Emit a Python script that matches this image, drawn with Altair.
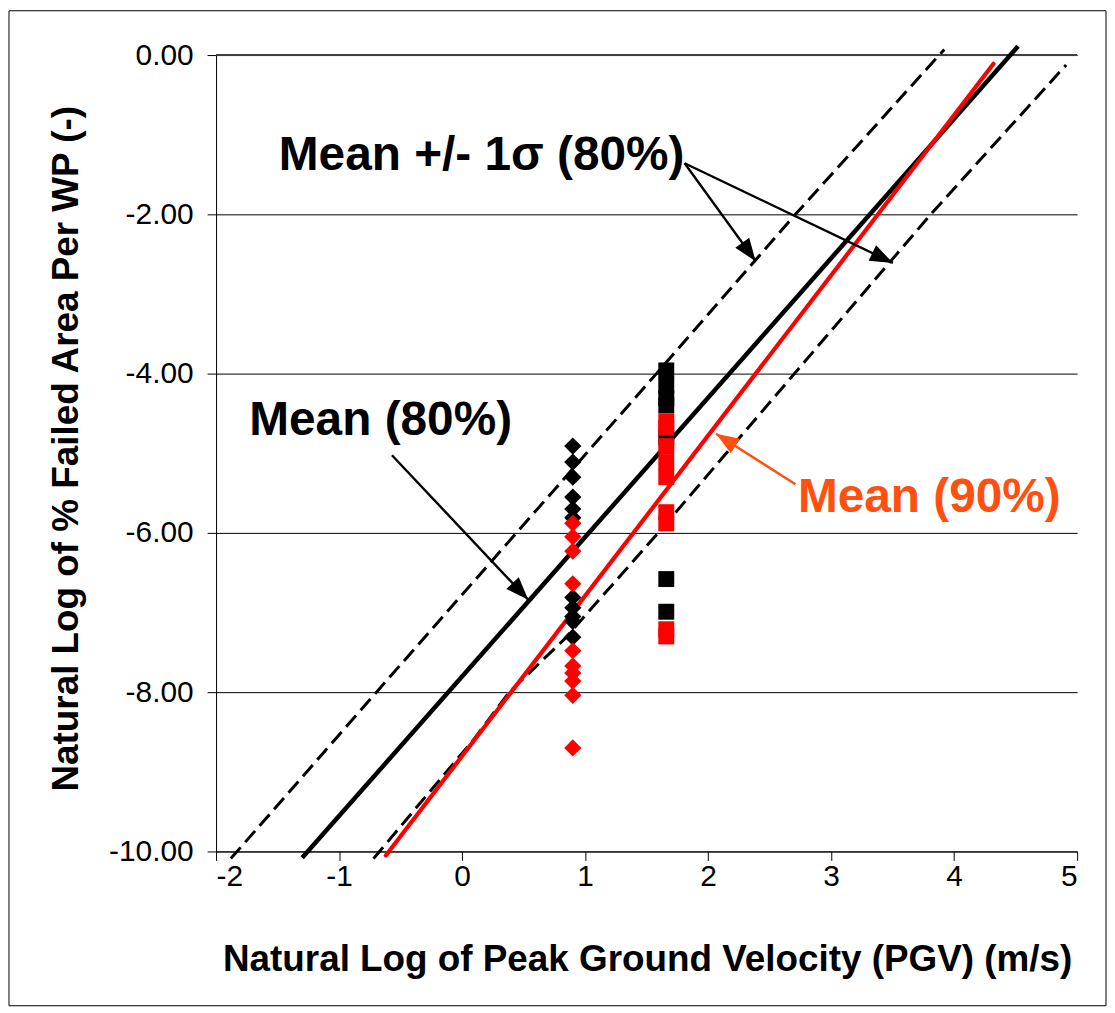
import math
import altair as alt
import pandas as pd

# ---------------- data ----------------
diamond_x = 0.90
square_x = 1.66
black_diamond_y = [-4.91, -5.11, -5.30, -5.55, -5.70, -5.81, -6.81, -6.94, -7.05, -7.11, -7.31]
red_diamond_y = [-5.88, -6.05, -6.23, -6.64, -7.48, -7.67, -7.76, -7.86, -8.04, -8.70]
black_square_y = [-3.96, -4.15, -4.31, -4.40, -4.80, -6.58, -6.99]
red_square_y = [-4.60, -4.68, -4.91, -5.11, -5.30, -5.74, -5.88, -7.21, -7.30]

mean80_x = [-1.30, 4.52]
mean80_y = [-10.08, 0.11]
mean90_x = [-0.62, 4.32]
mean90_y = [-10.05, -0.11]
upper_x = [-1.88, -0.696, 1.58, 2.71, 3.92]
upper_y = [-10.09, -8.00, -4.00, -2.00, 0.07]
lower_x = [-0.72, 0.097, 0.383, 0.828, 1.594, 3.81, 4.91]
lower_y = [-10.09, -8.59, -8.00, -7.34, -6.00, -2.00, -0.125]

x_ticks = [-2, -1, 0, 1, 2, 3, 4, 5]
y_ticks = [-10, -8, -6, -4, -2, 0]

label_text = ["Mean +/- 1σ (80%)", "Mean (80%)", "Mean (90%)"]
label_x = [-1.49, -1.73, 2.73]
label_y = [-1.4375, -4.775, -5.7375]
label_color = ["#000000", "#000000", "#FF5010"]

arrow_x1 = [-0.57, 1.809, 1.809, 2.71]
arrow_y1 = [-5.025, -1.358, -1.358, -5.39]
arrow_x2 = [0.538, 2.387, 3.503, 2.065]
arrow_y2 = [-6.84, -2.59, -2.61, -4.754]
arrow_color = ["#000000", "#000000", "#000000", "#FF5010"]

# ---------------- layout ----------------
W, H = 865, 800
PX_X = W / (x_ticks[-1] - x_ticks[0])
PX_Y = H / (y_ticks[-1] - y_ticks[0])
FONT = "Liberation Sans"

# ---------------- tables ----------------
pts = pd.DataFrame(
    [{"x": diamond_x, "y": v, "grp": "bd"} for v in black_diamond_y]
    + [{"x": diamond_x, "y": v, "grp": "rd"} for v in red_diamond_y]
    + [{"x": square_x, "y": v, "grp": "bs"} for v in black_square_y]
    + [{"x": square_x, "y": v, "grp": "rs"} for v in red_square_y]
)
mean80 = pd.DataFrame({"x": mean80_x, "y": mean80_y})
mean90 = pd.DataFrame({"x": mean90_x, "y": mean90_y})
upper = pd.DataFrame({"x": upper_x, "y": upper_y})
lower = pd.DataFrame({"x": lower_x, "y": lower_y})
labels = pd.DataFrame({"t": label_text, "x": label_x, "y": label_y, "c": label_color})

angles = []
for x1, y1, x2, y2 in zip(arrow_x1, arrow_y1, arrow_x2, arrow_y2):
    a = math.degrees(math.atan2((x2 - x1) * PX_X, (y2 - y1) * PX_Y))
    angles.append(a % 360)
arrows = pd.DataFrame({"x1": arrow_x1, "y1": arrow_y1, "x2": arrow_x2, "y2": arrow_y2,
                       "c": arrow_color, "ang": angles})

# ---------------- scales / axes ----------------
x_axis = alt.Axis(
    values=x_ticks, grid=False, title="Natural Log of Peak Ground Velocity (PGV) (m/s)",
    labelExpr="'' + datum.value", labelFont=FONT, labelFontSize=30, labelColor="black",
    labelPadding=1, tickSize=9, tickColor="black", domainColor="black",
    titleFont=FONT, titleFontSize=37, titleFontWeight="bold", titleColor="black",
    titleX=433, titleY=109, titleAlign="center", titleBaseline="middle",
)
y_axis = alt.Axis(
    values=y_ticks, grid=True, gridColor="black", gridWidth=1,
    title="Natural Log of % Failed Area Per WP (-)",
    labelExpr="replace(format(datum.value, '.2f'), '\u2212', '-')",
    labelFont=FONT, labelFontSize=30, labelColor="black", labelPadding=14,
    tickSize=9, tickColor="black", domainColor="black",
    titleFont=FONT, titleFontSize=37, titleFontWeight="bold", titleColor="black",
    titleX=-150, titleY=395, titleAngle=270, titleAlign="center", titleBaseline="middle",
)
xs = alt.Scale(domain=[x_ticks[0], x_ticks[-1]], nice=False, zero=False)
ys = alt.Scale(domain=[y_ticks[0], y_ticks[-1]], nice=False, zero=False)


def X(f="x"):
    return alt.X(f"{f}:Q", scale=xs, axis=x_axis)


def Y(f="y"):
    return alt.Y(f"{f}:Q", scale=ys, axis=y_axis)


# ---------------- layers ----------------
border = alt.Chart(pd.DataFrame({"a": [0]})).mark_rect(
    fill="transparent", stroke="black", strokeWidth=1
).encode(x=alt.value(-208), x2=alt.value(894), y=alt.value(-44.5), y2=alt.value(955))

top_grid = alt.Chart(pd.DataFrame({"y": [y_ticks[-1]]})).mark_rule(
    color="#404040", strokeWidth=2
).encode(y=Y())

upper_l = alt.Chart(upper).mark_line(color="black", strokeWidth=3, strokeDash=[15, 7]).encode(
    x=X(), y=Y(), order="x:Q")
lower_l = alt.Chart(lower).mark_line(color="black", strokeWidth=3, strokeDash=[15, 7]).encode(
    x=X(), y=Y(), order="x:Q")
mean80_l = alt.Chart(mean80).mark_line(color="black", strokeWidth=4.5).encode(x=X(), y=Y())
mean90_l = alt.Chart(mean90).mark_line(color="#FF0000", strokeWidth=4.2, strokeCap="round").encode(
    x=X(), y=Y())

arrow_lines = alt.Chart(arrows).mark_rule(strokeWidth=2.4).encode(
    x=X("x1"), y=Y("y1"), x2="x2:Q", y2="y2:Q", color=alt.Color("c:N", scale=None))
arrow_heads = alt.Chart(arrows).mark_point(
    shape="M0,0 L0.75,2 L-0.75,2 Z", filled=True, size=529, opacity=1, strokeWidth=0
).encode(x=X("x2"), y=Y("y2"), color=alt.Color("c:N", scale=None),
         angle=alt.Angle("ang:Q", scale=None))

bd = alt.Chart(pts).transform_filter("datum.grp == 'bd'").mark_point(
    shape="diamond", filled=True, size=300, opacity=1, color="black").encode(x=X(), y=Y())
bs = alt.Chart(pts).transform_filter("datum.grp == 'bs'").mark_point(
    shape="square", filled=True, size=256, opacity=1, color="black").encode(x=X(), y=Y())
rd = alt.Chart(pts).transform_filter("datum.grp == 'rd'").mark_point(
    shape="diamond", filled=True, size=300, opacity=1, color="#FF0000").encode(x=X(), y=Y())
rs = alt.Chart(pts).transform_filter("datum.grp == 'rs'").mark_point(
    shape="square", filled=True, size=256, opacity=1, color="#FF0000").encode(x=X(), y=Y())

texts = alt.Chart(labels).mark_text(
    align="left", baseline="alphabetic", font=FONT, fontWeight="bold", fontSize=48
).encode(x=X(), y=Y(), text="t:N", color=alt.Color("c:N", scale=None))

chart = alt.layer(
    border, top_grid, upper_l, lower_l, mean80_l, mean90_l, bd, bs, rd, rs,
    arrow_lines, arrow_heads, texts
).properties(
    width=W, height=H,
    autosize=alt.AutoSizeParams(type="none"),
    padding={"left": 209, "top": 45, "right": 30, "bottom": 156},
    background="white",
).configure_view(strokeWidth=0)

chart.save("out.html", embed_options={"renderer": "svg", "actions": False})
